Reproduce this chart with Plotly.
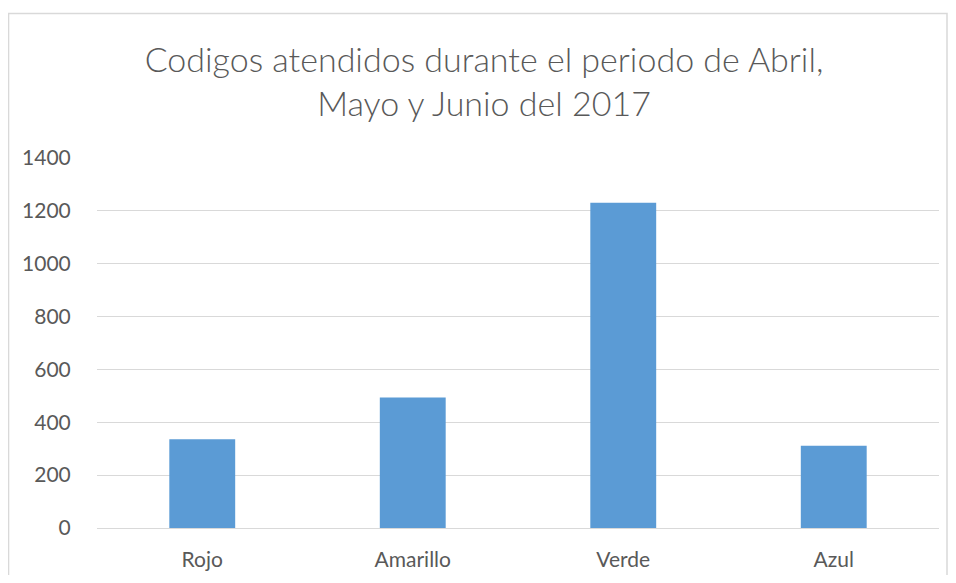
import plotly.graph_objects as go

# Datos
categorias = ["Rojo", "Amarillo", "Verde", "Azul"]
codigos = [336, 494, 1231, 311]
ticks_y = [0, 200, 400, 600, 800, 1000, 1200, 1400]

# la pagina deja 8px de margen alrededor de la figura
OFF = 8
W, H = 940, 567
L, R, T, B = 97 - OFF, 8.5, 158 - OFF, 47.3
pw = W - L - R
ph = H - T - B


def px_x(x):
    return (x - OFF - L) / pw


def px_y(y):
    return (H - B - (y - OFF)) / ph


fig = go.Figure(go.Bar(
    x=categorias,
    y=codigos,
    marker=dict(color="#5B9BD5", line=dict(width=0)),
))

fig.update_layout(
    width=W,
    height=H,
    margin=dict(l=L, r=R, t=T, b=B),
    paper_bgcolor="white",
    plot_bgcolor="white",
    bargap=0.687,
    showlegend=False,
    font=dict(family="Lato, Open Sans, sans-serif", color="#595959", size=21),
    title=dict(
        text="Codigos atendidos durante el periodo de Abril,<br>Mayo y Junio del 2017",
        x=(484 - OFF) / W,
        xanchor="center",
        xref="container",
        y=1 - (72 - OFF) / H,
        yanchor="middle",
        yref="container",
        font=dict(size=34, color="#595959", family="Lato, Open Sans, sans-serif", weight=300),
    ),
    shapes=[dict(
        type="rect",
        xref="paper", yref="paper",
        x0=px_x(8.5), x1=px_x(947.5),
        y0=px_y(620), y1=px_y(13.5),
        line=dict(color="#D9D9D9", width=1.5),
        fillcolor="rgba(0,0,0,0)",
        layer="below",
    )],
)

fig.update_xaxes(
    automargin=False,
    showgrid=False,
    showline=False,
    ticks="outside",
    ticklen=13,
    tickcolor="rgba(0,0,0,0)",
    tickfont=dict(size=21, color="#595959"),
)

fig.update_yaxes(
    automargin=False,
    range=[0, 1400],
    tickvals=ticks_y,
    showgrid=True,
    gridcolor="#D9D9D9",
    gridwidth=1,
    zeroline=True,
    zerolinecolor="#D9D9D9",
    zerolinewidth=1,
    showline=False,
    ticks="outside",
    ticklen=21,
    tickcolor="rgba(0,0,0,0)",
    tickfont=dict(size=21, color="#595959"),
)

fig.write_html("out.html")
